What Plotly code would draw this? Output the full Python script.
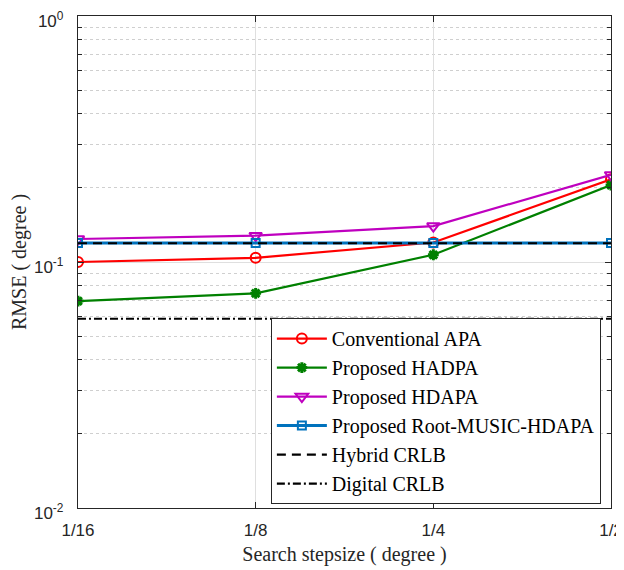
import plotly.graph_objects as go

x_vals = [1/16, 1/8, 1/4, 1/2]
x_labels = ["1/16", "1/8", "1/4", "1/2"]

conv_apa = [0.100, 0.104, 0.120, 0.217]
prop_hadpa = [0.0694, 0.0746, 0.107, 0.2055]
prop_hdapa = [0.124, 0.128, 0.140, 0.226]
root_music = [0.1195, 0.1195, 0.1195, 0.1195]
hybrid_crlb = [0.1192, 0.1192, 0.1192, 0.1192]
digital_crlb = [0.0588, 0.0588, 0.0588, 0.0588]

y_tickvals = [0.01, 0.1, 1]
y_ticktext = ["10<sup>-2</sup>", "10<sup>-1</sup>", "10<sup>0</sup>"]
y_minor = [m * d for d in (0.01, 0.1) for m in range(2, 10)]

SERIF = "Liberation Serif"
SANS = "Liberation Sans"

fig = go.Figure()

fig.add_trace(go.Scatter(x=x_vals, y=conv_apa, name="Conventional APA", mode="lines+markers",
                         line=dict(color="#FF0000", width=2.2),
                         marker=dict(symbol="circle-open", size=10, color="#FF0000", line=dict(width=2))))
fig.add_trace(go.Scatter(x=x_vals, y=prop_hadpa, name="Proposed HADPA", mode="lines+markers",
                         line=dict(color="#008000", width=2.2),
                         marker=dict(symbol="asterisk-open", size=9, color="#008000", line=dict(width=3, color="#008000"))))
fig.add_trace(go.Scatter(x=x_vals, y=prop_hdapa, name="Proposed HDAPA", mode="lines+markers",
                         line=dict(color="#BF00BF", width=2.2),
                         marker=dict(symbol="triangle-down-open", size=11, color="#BF00BF", line=dict(width=2))))
fig.add_trace(go.Scatter(x=x_vals, y=root_music, name="Proposed Root-MUSIC-HDAPA", mode="lines+markers",
                         line=dict(color="#0072BD", width=3),
                         marker=dict(symbol="square-open", size=8, color="#0072BD", line=dict(width=2))))
fig.add_trace(go.Scatter(x=x_vals, y=hybrid_crlb, name="Hybrid CRLB", mode="lines",
                         line=dict(color="black", width=2.2, dash="9px,6px")))
fig.add_trace(go.Scatter(x=x_vals, y=digital_crlb, name="Digital CRLB", mode="lines",
                         line=dict(color="black", width=2.2, dash="8px,3px,2px,3px")))

axis_common = dict(showline=True, linecolor="#262626", linewidth=1.3, mirror="allticks",
                   ticks="inside", tickcolor="#262626", ticklen=6, automargin=False,
                   ticklabeloverflow="allow",
                   tickfont=dict(family=SANS, size=17, color="#262626"),
                   zeroline=False)

fig.update_xaxes(type="log", range=[-1.2041, -0.30103], tickvals=x_vals, ticktext=x_labels,
                 showgrid=True, gridcolor="#DFDFDF", gridwidth=1, ticklabelstandoff=6,
                 title=dict(text="Search stepsize ( degree )",
                            font=dict(family=SERIF, size=20, color="#262626"),
                            standoff=8),
                 **axis_common)
fig.update_yaxes(type="log", range=[-2, 0], tickvals=y_tickvals, ticktext=y_ticktext,
                 showgrid=True, gridcolor="#DFDFDF", gridwidth=1, ticklabelstandoff=10,
                 ticklabelshift=5,
                 minor=dict(tickvals=y_minor, ticks="inside", ticklen=4, tickcolor="#262626",
                            showgrid=True, gridcolor="#CFCFCF", griddash="dot", gridwidth=1),
                 title=dict(text="RMSE ( degree )",
                            font=dict(family=SERIF, size=20, color="#262626"),
                            standoff=10),
                 **axis_common)

fig.update_layout(
    width=616, height=562,
    margin=dict(l=70, r=13, t=8, b=62),
    paper_bgcolor="white", plot_bgcolor="white",
    showlegend=True,
    legend=dict(x=0.981, y=0.008, xanchor="right", yanchor="bottom",
                bgcolor="white", bordercolor="#262626", borderwidth=1,
                font=dict(family=SERIF, size=20, color="black"),
                tracegroupgap=0, itemwidth=50),
)

fig.write_html("out.html")
